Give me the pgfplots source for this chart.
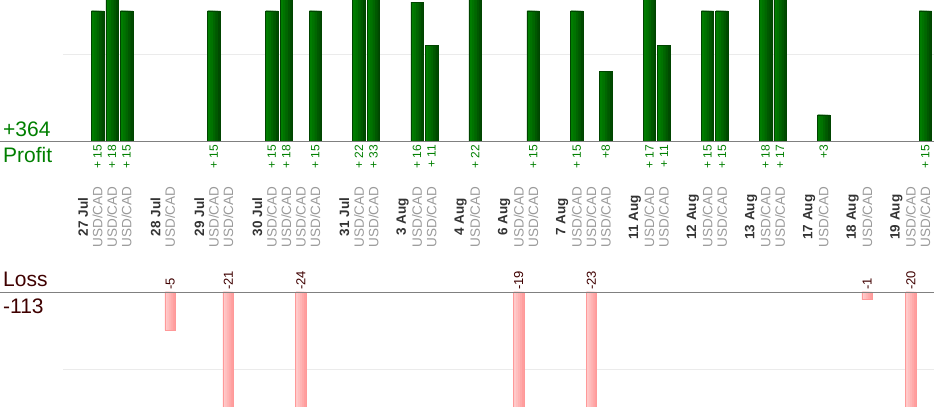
\documentclass[border=0pt]{standalone}
\usepackage{fontspec}
\setmainfont{Liberation Sans}
\usepackage{pgfplots}
\usepackage{pgfplotstable}
\pgfplotsset{compat=1.18}
\definecolor{gE}{HTML}{004400}
\definecolor{g0}{HTML}{004A00}
\definecolor{g1}{HTML}{005800}
\definecolor{g2}{HTML}{006600}
\definecolor{g3}{HTML}{007300}
\definecolor{g4}{HTML}{007D00}
\definecolor{pE}{HTML}{FF9999}
\definecolor{p0}{HTML}{FF9E9E}
\definecolor{p1}{HTML}{FFA9A9}
\definecolor{p2}{HTML}{FFB4B4}
\definecolor{p3}{HTML}{FFBFBF}
\definecolor{p4}{HTML}{FFCACA}
\definecolor{ptxt}{HTML}{007F00}
\definecolor{ltxt}{HTML}{3F0000}
\definecolor{datec}{HTML}{333333}
\definecolor{pairc}{HTML}{9A9A9A}
\definecolor{gridc}{HTML}{EBEBEB}
\definecolor{basec}{HTML}{808080}

\pgfplotstableread[col sep=comma]{
x,y,lab
1,15,+ 15
2,18,+ 18
3,15,+ 15
9,15,+ 15
13,15,+ 15
14,18,+ 18
16,15,+ 15
19,22,+ 22
20,33,+ 33
23,16,+ 16
24,11,+ 11
27,22,+ 22
31,15,+ 15
34,15,+ 15
36,8,+8
39,17,+ 17
40,11,+ 11
43,15,+ 15
44,15,+ 15
47,18,+ 18
48,17,+ 17
51,3,+3
58,15,+ 15
}\profit

\pgfplotstableread[col sep=comma]{
x,y,lab
6,-5,-5
10,-21,-21
15,-24,-24
30,-19,-19
35,-23,-23
54,-1,-1
57,-20,-20
}\loss

\newcommand{\dlab}[2]{\node[rotate=90, anchor=center, inner sep=0pt, text=datec, font=\fontsize{13.5}{15}\selectfont\bfseries] at (axis cs:#1,-8.77) {#2};}
\newcommand{\plab}[1]{\node[rotate=90, anchor=center, inner sep=0pt, text=pairc, font=\fontsize{13.5}{15}\selectfont] at (axis cs:#1,-8.77) {USD/CAD};}
\newcommand{\gbar}[3]{\addplot[ybar, bar width=#1, bar shift=#2, fill=#3, draw=none] table[x=x, y=y] {\profit};}
\newcommand{\pbar}[3]{\addplot[ybar, bar width=#1, bar shift=#2, fill=#3, draw=none] table[x=x, y=y] {\loss};}

\begin{document}
\begin{tikzpicture}[x=1pt,y=1pt]
\path[use as bounding box] (0pt,0pt) rectangle (934pt,420pt);

\begin{axis}[at={(0pt,279pt)}, anchor=south west, scale only axis,
  width=934pt, height=141pt,
  xmin=-5.716, xmax=58.6, ymin=0, ymax=16.26,
  hide axis, clip mode=individual]
  \draw[gridc, line width=0.8pt] (axis cs:-1.377,10) -- (axis cs:58.6,10);
  \gbar{12.5pt}{0pt}{g0}
  \gbar{10pt}{-0.85pt}{g1}
  \gbar{7.5pt}{-2.1pt}{g2}
  \gbar{5pt}{-3.35pt}{g3}
  \gbar{2.5pt}{-4.6pt}{g4}
  \addplot[ybar, bar width=12.5pt, bar shift=0pt, fill=none, draw=gE, line width=0.5pt]
    table[x=x, y=y] {\profit};
  \addplot[draw=none, nodes near coords, point meta=explicit symbolic,
    nodes near coords style={rotate=90, anchor=east, inner xsep=3.5pt, inner ysep=0pt,
      text=ptxt, font=\fontsize{12}{13}\selectfont}]
    table[x=x, y expr=0, meta=lab] {\profit};
  \draw[basec, line width=0.9pt] (rel axis cs:0,0) -- (rel axis cs:1,0);
  \dlab{0}{27 Jul}\plab{1}\plab{2}\plab{3}
  \dlab{5}{28 Jul}\plab{6}
  \dlab{8}{29 Jul}\plab{9}\plab{10}
  \dlab{12}{30 Jul}\plab{13}\plab{14}\plab{15}\plab{16}
  \dlab{18}{31 Jul}\plab{19}\plab{20}
  \dlab{22}{3 Aug}\plab{23}\plab{24}
  \dlab{26}{4 Aug}\plab{27}
  \dlab{29}{6 Aug}\plab{30}\plab{31}
  \dlab{33}{7 Aug}\plab{34}\plab{35}\plab{36}
  \dlab{38}{11 Aug}\plab{39}\plab{40}
  \dlab{42}{12 Aug}\plab{43}\plab{44}
  \dlab{46}{13 Aug}\plab{47}\plab{48}
  \dlab{50}{17 Aug}\plab{51}
  \dlab{53}{18 Aug}\plab{54}
  \dlab{56}{19 Aug}\plab{57}\plab{58}
\end{axis}

\begin{axis}[at={(0pt,13pt)}, anchor=south west, scale only axis,
  width=934pt, height=115pt,
  xmin=-5.716, xmax=58.6, ymin=-14.94, ymax=0,
  hide axis, clip mode=individual]
  \draw[gridc, line width=0.8pt] (axis cs:-1.377,-10) -- (axis cs:58.6,-10);
  \pbar{10.5pt}{0pt}{p0}
  \pbar{8pt}{-0.75pt}{p1}
  \pbar{6pt}{-1.75pt}{p2}
  \pbar{4pt}{-2.75pt}{p3}
  \pbar{2pt}{-3.75pt}{p4}
  \addplot[ybar, bar width=10.5pt, bar shift=0pt, fill=none, draw=pE, line width=0.6pt]
    table[x=x, y=y] {\loss};
  \addplot[draw=none, nodes near coords, point meta=explicit symbolic,
    nodes near coords style={rotate=90, anchor=west, inner xsep=2pt, inner ysep=0pt,
      text=ltxt, font=\fontsize{13}{14}\selectfont}]
    table[x=x, y expr=0, meta=lab] {\loss};
  \draw[basec, line width=0.9pt] (rel axis cs:0,1) -- (rel axis cs:1,1);
\end{axis}

\node[anchor=base west, inner sep=0pt, text=ptxt, font=\fontsize{21}{24}\selectfont] at (3pt,283pt) {+364};
\node[anchor=base west, inner sep=0pt, text=ptxt, font=\fontsize{21}{24}\selectfont] at (3pt,257pt) {Profit};
\node[anchor=base west, inner sep=0pt, text=ltxt, font=\fontsize{21}{24}\selectfont] at (3pt,133pt) {Loss};
\node[anchor=base west, inner sep=0pt, text=ltxt, font=\fontsize{21}{24}\selectfont] at (3pt,106pt) {-113};
\end{tikzpicture}
\end{document}
